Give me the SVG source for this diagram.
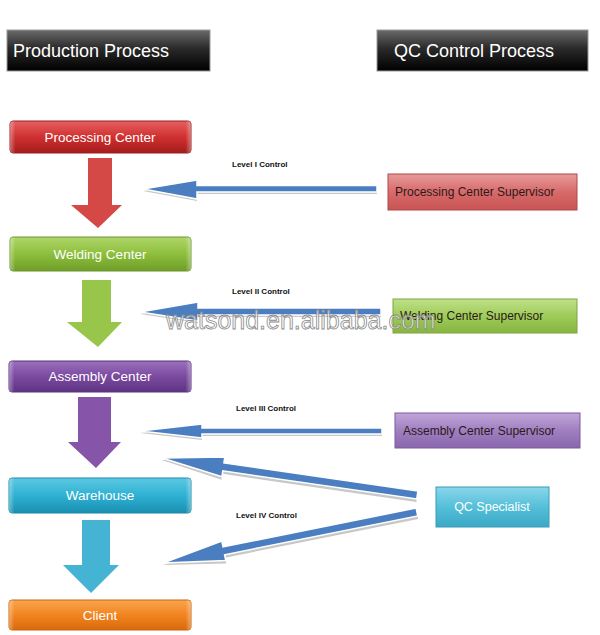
<svg xmlns="http://www.w3.org/2000/svg" width="600" height="635" viewBox="0 0 600 635">
<defs>
<linearGradient id="gBlack" x1="0" y1="0" x2="0" y2="1"><stop offset="0" stop-color="#6a6a6a"/><stop offset="0.45" stop-color="#2a2a2a"/><stop offset="1" stop-color="#000"/></linearGradient>
<linearGradient id="gRed" x1="0" y1="0" x2="0" y2="1"><stop offset="0" stop-color="#e56060"/><stop offset="0.5" stop-color="#d03030"/><stop offset="1" stop-color="#a51c1c"/></linearGradient>
<linearGradient id="gGreen" x1="0" y1="0" x2="0" y2="1"><stop offset="0" stop-color="#b0d66a"/><stop offset="0.5" stop-color="#8dbf3c"/><stop offset="1" stop-color="#6f9d28"/></linearGradient>
<linearGradient id="gPurple" x1="0" y1="0" x2="0" y2="1"><stop offset="0" stop-color="#9a70bd"/><stop offset="0.5" stop-color="#7b4aa0"/><stop offset="1" stop-color="#5e3482"/></linearGradient>
<linearGradient id="gCyan" x1="0" y1="0" x2="0" y2="1"><stop offset="0" stop-color="#5cc8e2"/><stop offset="0.5" stop-color="#2fb1d3"/><stop offset="1" stop-color="#1a8fb0"/></linearGradient>
<linearGradient id="gOrange" x1="0" y1="0" x2="0" y2="1"><stop offset="0" stop-color="#f9a550"/><stop offset="0.5" stop-color="#f28420"/><stop offset="1" stop-color="#d96a0c"/></linearGradient>
<linearGradient id="sRed" x1="0" y1="0" x2="0" y2="1"><stop offset="0" stop-color="#e79a9a"/><stop offset="0.5" stop-color="#d86a6a"/><stop offset="1" stop-color="#c85454"/></linearGradient>
<linearGradient id="sGreen" x1="0" y1="0" x2="0" y2="1"><stop offset="0" stop-color="#bfe08a"/><stop offset="0.5" stop-color="#9fcb58"/><stop offset="1" stop-color="#86b540"/></linearGradient>
<linearGradient id="sPurple" x1="0" y1="0" x2="0" y2="1"><stop offset="0" stop-color="#c0a6d8"/><stop offset="0.5" stop-color="#a07fc0"/><stop offset="1" stop-color="#8a66ad"/></linearGradient>
<linearGradient id="sCyan" x1="0" y1="0" x2="0" y2="1"><stop offset="0" stop-color="#8ad6ea"/><stop offset="0.5" stop-color="#55bfd9"/><stop offset="1" stop-color="#3aa9c6"/></linearGradient>
<linearGradient id="edge" x1="0" y1="0" x2="1" y2="0"><stop offset="0" stop-color="#fff" stop-opacity="0.35"/><stop offset="0.03" stop-color="#fff" stop-opacity="0"/><stop offset="0.97" stop-color="#fff" stop-opacity="0"/><stop offset="1" stop-color="#fff" stop-opacity="0.35"/></linearGradient>
</defs>
<style>
.hdr{fill:url(#gBlack);stroke:#999;stroke-width:1}
.htxt{font-family:"Liberation Sans",Arial,sans-serif;font-size:18px;fill:#fff}
.box{stroke-width:1}
.btxt{font-family:"Liberation Sans",Arial,sans-serif;font-size:13.5px;fill:#fff;text-anchor:middle}
.stxt{font-family:"Liberation Sans",Arial,sans-serif;font-size:12px;fill:#2a1a1a}
.lvl{font-family:"Liberation Sans",Arial,sans-serif;font-size:8px;fill:#111;font-weight:bold}
.blue{fill:#4a7ec0;stroke:#fff;stroke-width:1.5}
.bsh{fill:#c8c8c8}
.wm{font-family:"Liberation Sans",Arial,sans-serif;font-size:25px;fill:#fff;fill-opacity:0.6;stroke:#8a8a8a;stroke-width:0.8}
</style>

<g id="hdr-production"><rect class="hdr" x="7" y="30" width="203" height="41"/><text class="htxt" x="13" y="57">Production Process</text></g>
<g id="hdr-qc"><rect class="hdr" x="377" y="30" width="211" height="41"/><text class="htxt" x="394" y="57">QC Control Process</text></g>

<g id="processing-center"><rect class="box" x="10" y="121" width="181" height="32" rx="3" fill="url(#gRed)" stroke="#9a2020"/><rect x="10" y="121" width="181" height="32" rx="3" fill="url(#edge)"/><text class="btxt" x="100" y="142">Processing Center</text></g>
<g id="welding-center"><rect class="box" x="10" y="237" width="181" height="34" rx="3" fill="url(#gGreen)" stroke="#6a9530"/><rect x="10" y="237" width="181" height="34" rx="3" fill="url(#edge)"/><text class="btxt" x="100" y="259">Welding Center</text></g>
<g id="assembly-center"><rect class="box" x="9" y="361" width="182" height="31" rx="3" fill="url(#gPurple)" stroke="#5a3180"/><rect x="9" y="361" width="182" height="31" rx="3" fill="url(#edge)"/><text class="btxt" x="100" y="381">Assembly Center</text></g>
<g id="warehouse"><rect class="box" x="9" y="478" width="182" height="35" rx="3" fill="url(#gCyan)" stroke="#1a8aa8"/><rect x="9" y="478" width="182" height="35" rx="3" fill="url(#edge)"/><text class="btxt" x="100" y="500">Warehouse</text></g>
<g id="client"><rect class="box" x="9" y="600" width="182" height="30" rx="3" fill="url(#gOrange)" stroke="#c8650c"/><rect x="9" y="600" width="182" height="30" rx="3" fill="url(#edge)"/><text class="btxt" x="100" y="620">Client</text></g>

<g id="processing-supervisor"><rect class="box" x="388" y="174" width="189" height="36" fill="url(#sRed)" stroke="#b04848"/><text class="stxt" x="395" y="196">Processing Center Supervisor</text></g>
<g id="welding-supervisor"><rect class="box" x="393" y="299" width="184" height="34" fill="url(#sGreen)" stroke="#7ea540"/><text class="stxt" x="400" y="320">Welding Center Supervisor</text></g>
<g id="assembly-supervisor"><rect class="box" x="395" y="413" width="185" height="35" fill="url(#sPurple)" stroke="#7d5aa0"/><text class="stxt" x="403" y="435">Assembly Center Supervisor</text></g>
<g id="qc-specialist"><rect class="box" x="436" y="487" width="113" height="40" fill="url(#sCyan)" stroke="#3a9cb8"/><text class="btxt" x="492" y="511" style="font-size:12.5px">QC Specialist</text></g>

<g id="connectors">
<!-- flow arrows -->
<polygon points="88,158 112,158 112,205 122,205 98,228 71,205 88,205" fill="#d44846"/>
<polygon points="82,280 111,280 111,322 122,322 98,347 67,322 82,322" fill="#98c64a"/>
<polygon points="78,397 111,397 111,442 121,442 96,468 68,442 78,442" fill="#8655aa"/>
<polygon points="82,520 110,520 110,565 119,565 91,593 63,565 82,565" fill="#45b4d4"/>
<!-- control arrows -->
<polygon class="bsh" points="143,191 197,182 197,187.5 377,187.5 377,194 197,194 197,201"/>
<polygon class="blue" points="143,189 197,180 197,185.5 377,185.5 377,192 197,192 197,199"/>
<polygon class="bsh" points="140,314 198,304 198,310 381,310 381,317 198,317 198,323"/>
<polygon class="blue" points="140,312 198,302 198,308 381,308 381,315 198,315 198,321"/>
<polygon class="bsh" points="140,433 202,426 202,430 382,430 382,436 202,436 202,440"/>
<polygon class="blue" points="140,431 202,424 202,428 382,428 382,434 202,434 202,438"/>
<g transform="translate(162,458) rotate(8.26)">
<polygon class="bsh" points="0,2 62,-8 62,-2 258,-2 258,7 62,7 62,13"/>
<polygon class="blue" points="0,0 62,-10 62,-4 258,-4 258,4 62,4 62,10"/>
</g>
<g transform="translate(163,563) rotate(-11.35)">
<polygon class="bsh" points="0,2 62,-8 62,-2 259,-2 259,7 62,7 62,13"/>
<polygon class="blue" points="0,0 62,-10 62,-4 259,-4 259,4 62,4 62,10"/>
</g>
<text class="lvl" x="232" y="167">Level I Control</text>
<text class="lvl" x="232" y="294">Level II Control</text>
<text class="lvl" x="236" y="411">Level III Control</text>
<text class="lvl" x="236" y="518">Level IV Control</text>
</g>
<text class="wm" x="166" y="329">watsond.en.alibaba.com</text>
</svg>
